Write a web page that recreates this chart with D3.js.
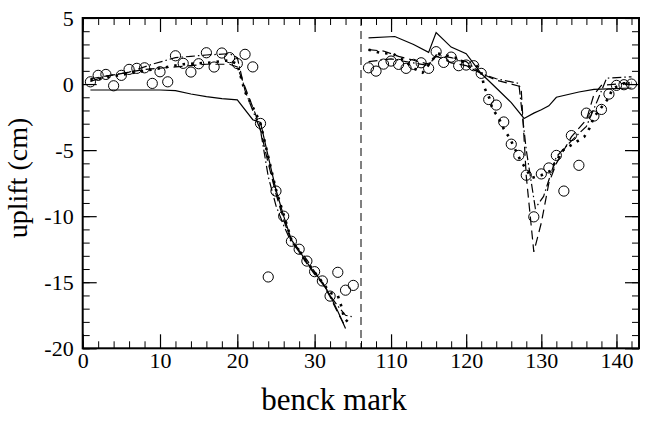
<!DOCTYPE html>
<html>
<head>
<meta charset="utf-8">
<script src="https://cdn.jsdelivr.net/npm/d3@7"></script>
<style>
  body { margin: 0; background: #fff; }
  svg text { font-family: "Liberation Serif", "Times New Roman", serif; fill: #000; }
</style>
</head>
<body>
<div id="chart"></div>
<script>
// ---- data: left panel (bench marks 0-36) ----
const leftObsX = d3.range(1, 36);
const leftObsY = [0.17, 0.66, 0.73, -0.13, 0.66, 1.11, 1.19, 1.23, 0.05, 0.93,
  0.17, 2.14, 1.57, 0.91, 1.54, 2.37, 1.29, 2.35, 2.0, 1.55,
  2.25, 1.3, -2.98, -14.6, -8.1, -10.0, -11.9, -12.5, -13.4, -14.2,
  -14.9, -16.05, -14.25, -15.6, -15.24];

const leftSolidX = [1, 5, 10, 12, 14, 16, 18, 20, 22, 23, 24, 25, 26, 27, 28, 29, 30, 31, 32, 33, 34];
const leftSolidY = [-0.45, -0.45, -0.45, -0.5, -0.75, -0.95, -1.1, -1.2, -2.7, -2.9, -5.5, -8.0, -10.0, -11.8, -12.6, -13.5, -14.3, -15.0, -16.0, -17.2, -18.5];

const leftDashX = [1, 4, 8, 12, 16, 19, 20, 21.5, 22.5, 23, 24, 25, 26, 27, 28, 29, 30, 31, 32, 33, 34];
const leftDashY = [0.4, 0.7, 1.1, 1.3, 1.5, 1.5, 1.3, -1.0, -2.5, -3.5, -6.0, -8.3, -10.3, -11.9, -12.7, -13.6, -14.4, -15.1, -16.1, -17.3, -18.4];

const leftDashDotX = [1, 3, 6, 9, 12, 14, 16, 19, 20, 21, 22, 23, 24, 25, 26, 27, 28, 29, 30, 31, 32, 33, 34, 34.8];
const leftDashDotY = [0.2, 0.6, 0.9, 1.5, 2.0, 2.1, 2.2, 2.3, 2.0, -0.5, -2.0, -3.5, -7.0, -9.2, -10.7, -12.0, -12.5, -13.3, -14.2, -15.0, -16.0, -16.8, -17.5, -17.6];

const leftDotX = [1, 5, 10, 13, 16, 19, 20, 21, 21.6, 22.3, 23, 25, 27, 29, 31, 32, 33, 33.5, 33.8, 34.3];
const leftDotY = [0.3, 0.7, 1.2, 1.5, 1.6, 1.8, 1.5, -0.6, -1.3, -2.1, -3.0, -8.0, -11.8, -13.5, -15.0, -15.8, -16.0, -16.9, -17.7, -18.0];

// ---- data: right panel (bench marks 106-143) ----
const rightObsX = d3.range(107, 143);
const rightObsY = [1.23, 0.98, 1.51, 1.74, 1.49, 1.19, 1.49, 1.61, 1.19, 2.45,
  1.64, 2.04, 1.39, 1.44, 1.39, 0.81, -1.17, -1.59, -2.87, -4.55,
  -5.4, -6.9, -10.05, -6.8, -6.35, -5.4, -8.1, -3.9, -6.15, -2.2,
  -2.42, -1.92, -0.76, -0.1, -0.05, 0.0];

const rightSolidX = [107, 110.5, 113, 115, 116, 118, 120, 122, 124, 126, 127.7, 129, 130, 131, 132, 135, 137, 142];
const rightSolidY = [3.5, 3.6, 3.0, 2.4, 3.9, 2.8, 2.3, 0.8, -0.3, -1.4, -2.6, -2.2, -1.95, -1.65, -1.0, -0.6, -0.4, -0.3];

const rightDashX = [107, 109, 111, 113, 115, 116, 117, 118, 120, 122, 124, 127.3, 128, 129, 130, 131, 132, 134, 136, 137, 138, 142];
const rightDashY = [2.6, 2.5, 2.1, 1.8, 1.5, 2.1, 1.9, 1.6, 1.4, 0.8, 0.3, -0.2, -7.0, -12.7, -10.5, -7.5, -6.0, -4.0, -2.7, -0.8, -0.1, 0.1];

const rightDashDotX = [107, 110, 113, 115, 116, 118, 120, 122, 124, 127, 128, 129.2, 130.3, 132, 134, 136, 137.5, 138.7, 142];
const rightDashDotY = [1.7, 1.9, 1.6, 1.4, 2.2, 2.0, 1.7, 0.8, 0.4, 0.05, -5.0, -9.4, -8.5, -5.5, -4.3, -3.2, -1.2, 0.45, 0.55];

const rightDotX = [107, 108.5, 110.3, 111.8, 113, 114.2, 115.5, 116.2, 118, 119.2, 120.2, 121.3, 122, 122.4, 123.1, 123.5, 124.3, 125, 125.8, 127.2, 128.7, 130, 131.1, 132.9, 134.3, 135.7, 136.4, 137, 138.9, 139.5, 141, 142];
const rightDotY = [2.6, 2.37, 2.27, 1.76, 1.19, 0.86, 1.82, 2.32, 2.07, 1.89, 1.31, 1.44, 0.93, -0.25, -1.08, -1.9, -2.52, -3.4, -4.1, -5.75, -7.1, -6.9, -6.6, -5.0, -4.5, -4.0, -3.35, -2.5, -1.1, -0.33, 0.05, 0.1];

const yTicks = [-20, -15, -10, -5, 0, 5];
const leftTicks = [0, 10, 20, 30];
const rightTicks = [110, 120, 130, 140];

// ---- layout ----
const W = 645, H = 428;
const L = 82.7, M = 361, R = 639, T = 18, B = 348.3;

const svg = d3.select("#chart").append("svg")
  .attr("width", W).attr("height", H);

const xl = d3.scaleLinear().domain([0, 36]).range([L, M]);
const xr = d3.scaleLinear().domain([106, 143]).range([M, R]);
const y = d3.scaleLinear().domain([-20, 5]).range([B, T]);

const zip = (xs, ys) => xs.map((v, i) => [v, ys[i]]);

// series styles
const styles = {
  solid: { dash: null, w: 1.2 },
  dash: { dash: "9 5", w: 1.2 },
  dashdot: { dash: "9 3 1.5 3", w: 1.2 },
  dot: { dash: "2.5 6", w: 2.6 }
};

function drawLine(xs, ys, xScale, st) {
  const line = d3.line().x(d => xScale(d[0])).y(d => y(d[1]));
  svg.append("path")
    .datum(zip(xs, ys))
    .attr("fill", "none")
    .attr("stroke", "#000")
    .attr("stroke-width", st.w)
    .attr("stroke-dasharray", st.dash)
    .attr("d", line);
}

drawLine(leftSolidX, leftSolidY, xl, styles.solid);
drawLine(leftDashX, leftDashY, xl, styles.dash);
drawLine(leftDashDotX, leftDashDotY, xl, styles.dashdot);
drawLine(leftDotX, leftDotY, xl, styles.dot);

drawLine(rightSolidX, rightSolidY, xr, styles.solid);
drawLine(rightDashX, rightDashY, xr, styles.dash);
drawLine(rightDashDotX, rightDashDotY, xr, styles.dashdot);
drawLine(rightDotX, rightDotY, xr, styles.dot);

// observed circles
function drawCircles(xs, ys, xScale) {
  svg.append("g").selectAll("circle")
    .data(zip(xs, ys))
    .join("circle")
    .attr("cx", d => xScale(d[0]))
    .attr("cy", d => y(d[1]))
    .attr("r", 5.1)
    .attr("fill", "none")
    .attr("stroke", "#000")
    .attr("stroke-width", 1);
}
drawCircles(leftObsX, leftObsY, xl);
drawCircles(rightObsX, rightObsY, xr);

// separator between panels
svg.append("line")
  .attr("x1", M).attr("x2", M)
  .attr("y1", T).attr("y2", B)
  .attr("stroke", "#000")
  .attr("stroke-width", 1)
  .attr("stroke-dasharray", "8 5");

// ---- axes (ticks inward, mirrored) ----
const fmt = d => String(d);
const major = 14, minor = 7;

function tickAxis(axisFn, scale, majorVals, minorVals, translate, pad) {
  const labels = pad != null;
  const gm = svg.append("g")
    .attr("transform", translate)
    .call(axisFn(scale).tickValues(minorVals).tickSize(-minor).tickFormat(""));
  gm.select(".domain").remove();
  const g = svg.append("g")
    .attr("transform", translate)
    .call(axisFn(scale).tickValues(majorVals).tickSize(-major)
      .tickPadding(labels ? pad : 0).tickFormat(labels ? fmt : ""));
  g.select(".domain").remove();
  g.selectAll("line").attr("stroke-width", 1.2);
  g.selectAll("text").style("font-size", "22px");
  return [gm, g];
}

const leftMinor = d3.range(0, 37, 2);
const rightMinor = d3.range(106, 144, 2);
const yMinor = d3.range(-20, 6, 1);

tickAxis(d3.axisBottom, xl, leftTicks, leftMinor, `translate(0,${B})`, 4);
tickAxis(d3.axisBottom, xr, rightTicks, rightMinor, `translate(0,${B})`, 4);
tickAxis(d3.axisLeft, y, yTicks, yMinor, `translate(${L},0)`, 9);

// mirrored axes on top and right: ticks pointing inward
[...tickAxis(d3.axisTop, xl, leftTicks, leftMinor, `translate(0,${T})`),
 ...tickAxis(d3.axisTop, xr, rightTicks, rightMinor, `translate(0,${T})`)]
  .forEach(g => g.selectAll(".tick line").attr("y2", function () {
    return Math.abs(+d3.select(this).attr("y2"));
  }));
tickAxis(d3.axisRight, y, yTicks, yMinor, `translate(${R},0)`)
  .forEach(g => g.selectAll(".tick line").attr("x2", function () {
    return -Math.abs(+d3.select(this).attr("x2"));
  }));

// frame
svg.append("rect")
  .attr("x", L).attr("y", T)
  .attr("width", R - L).attr("height", B - T)
  .attr("fill", "none")
  .attr("stroke", "#000")
  .attr("stroke-width", 2);

// axis titles
svg.append("text")
  .attr("x", 334)
  .attr("y", 410)
  .attr("text-anchor", "middle")
  .style("font-size", "31px")
  .text("benck mark");

svg.append("text")
  .attr("transform", `translate(27,178) rotate(-90)`)
  .attr("text-anchor", "middle")
  .style("font-size", "28px")
  .text("uplift (cm)");
</script>
</body>
</html>
